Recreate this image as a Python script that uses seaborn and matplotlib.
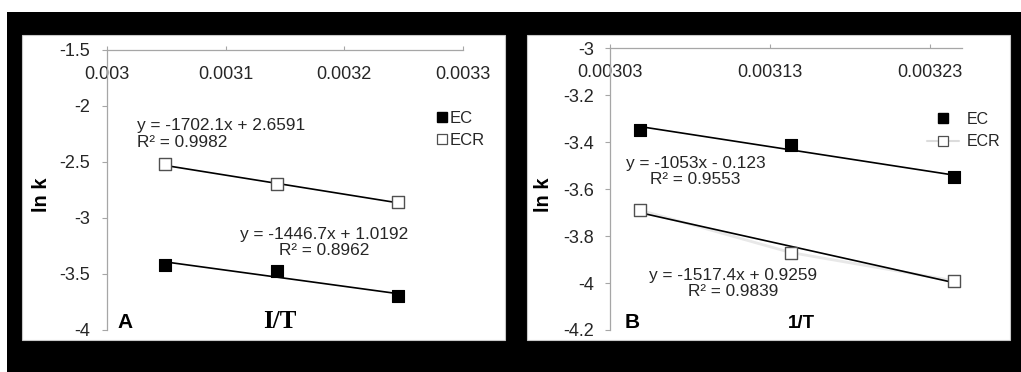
import matplotlib
matplotlib.use("Agg")
import matplotlib.pyplot as plt
import seaborn as sns
import numpy as np
import pandas as pd
from matplotlib.patches import Rectangle
from matplotlib.lines import Line2D

# ---------------- data ----------------
inv_T = [0.003049, 0.003143, 0.003245]

# Panel A
lnk_EC_A = [-3.42, -3.47, -3.70]
lnk_ECR_A = [-2.52, -2.70, -2.86]
fit_EC_A = [-1446.7, 1.0192]
fit_ECR_A = [-1702.1, 2.6591]
eq_EC_A = "y = -1446.7x + 1.0192\nR² = 0.8962"
eq_ECR_A = "y = -1702.1x + 2.6591\nR² = 0.9982"
xticks_A = [0.003, 0.0031, 0.0032, 0.0033]
xticklabels_A = ["0.003", "0.0031", "0.0032", "0.0033"]
yticks_A = [-4, -3.5, -3, -2.5, -2, -1.5]
yticklabels_A = ["-4", "-3.5", "-3", "-2.5", "-2", "-1.5"]

# Panel B
lnk_EC_B = [-3.35, -3.41, -3.55]
lnk_ECR_B = [-3.69, -3.87, -3.99]
fit_EC_B = [-1053.0, -0.123]
fit_ECR_B = [-1517.4, 0.9259]
eq_EC_B = "y = -1053x - 0.123\nR² = 0.9553"
eq_ECR_B = "y = -1517.4x + 0.9259\nR² = 0.9839"
xticks_B = [0.00303, 0.00313, 0.00323]
xticklabels_B = ["0.00303", "0.00313", "0.00323"]
yticks_B = [-4.2, -4.0, -3.8, -3.6, -3.4, -3.2, -3.0]
yticklabels_B = ["-4.2", "-4", "-3.8", "-3.6", "-3.4", "-3.2", "-3"]

series_labels = ["EC", "ECR"]

# ---------------- style ----------------
sns.set_style("white")
plt.rcParams["font.family"] = ["Liberation Sans", "DejaVu Sans"]

W, H = 1021, 372
fig = plt.figure(figsize=(W / 100, H / 100), dpi=100, facecolor="white")


def fx(px):
    return px / W


def fy(py):
    return 1 - py / H


# black background and white panels
fig.patches.append(Rectangle((fx(7), 0), 1 - fx(7), fy(12), transform=fig.transFigure,
                             facecolor="black", edgecolor="none", zorder=-3))
for x0 in (22, 527):
    fig.patches.append(Rectangle((fx(x0), fy(340)), fx(483), (305) / H, transform=fig.transFigure,
                                 facecolor="white", edgecolor="#c8c8c8", lw=0.8, zorder=-2))

axA = fig.add_axes([fx(107), fy(330), fx(463 - 107), (330 - 50) / H])
axB = fig.add_axes([fx(610), fy(330), fx(961.7 - 610), (330 - 48.3) / H])

GRAY = "#a6a6a6"
TXT = "#262626"
EQ_FS = 12.4


def style_axis(ax, xlim, ylim, xt, xtl, yt, ytl, ypad):
    ax.patch.set_alpha(0)
    ax.set_xlim(*xlim)
    ax.set_ylim(*ylim)
    ax.set_xticks(xt)
    ax.set_xticklabels(xtl)
    ax.set_yticks(yt)
    ax.set_yticklabels(ytl)
    ax.tick_params(axis="x", top=True, bottom=False, labeltop=True, labelbottom=False,
                   direction="out", length=3, width=0.8, color=GRAY, pad=-26.5,
                   labelsize=13, labelcolor=TXT)
    ax.tick_params(axis="y", left=True, right=False, direction="out", length=3.6,
                   width=0.8, color=GRAY, pad=ypad, labelsize=13, labelcolor=TXT)
    for s in ("right", "bottom"):
        ax.spines[s].set_visible(False)
    for s in ("top", "left"):
        ax.spines[s].set_visible(True)
        ax.spines[s].set_color(GRAY)
        ax.spines[s].set_linewidth(0.9)
    ax.set_xlabel("")
    ax.set_ylabel("")


def draw_panel(ax, ec, ecr, fit_ec, fit_ecr, gray_line=False):
    x = np.array(inv_T)
    xs = np.array([x.min(), x.max()])
    if gray_line:
        sns.lineplot(x=x, y=ecr, ax=ax, color="#e8e8e8", lw=2.0, zorder=1)
    sns.lineplot(x=xs, y=fit_ec[0] * xs + fit_ec[1], ax=ax, color="black", lw=1.2, zorder=2)
    sns.lineplot(x=xs, y=fit_ecr[0] * xs + fit_ecr[1], ax=ax, color="black", lw=1.2, zorder=2)
    sns.scatterplot(x=x, y=ec, ax=ax, marker="s", s=80, color="black",
                    edgecolor="black", linewidth=0.8, zorder=3)
    sns.scatterplot(x=x, y=ecr, ax=ax, marker="s", s=80, facecolor="white",
                    edgecolor="#505050", linewidth=1.0, zorder=3)


draw_panel(axA, lnk_EC_A, lnk_ECR_A, fit_EC_A, fit_ECR_A)
draw_panel(axB, lnk_EC_B, lnk_ECR_B, fit_EC_B, fit_ECR_B, gray_line=True)

style_axis(axA, (0.003, 0.0033), (-4, -1.5), xticks_A, xticklabels_A, yticks_A, yticklabels_A, 8.6)
style_axis(axB, (0.00303, 0.00325), (-4.2, -3.0), xticks_B, xticklabels_B, yticks_B, yticklabels_B, 7.8)

# equations
axA.text(0.0030253, -2.25, eq_ECR_A, ha="left", va="center", fontsize=EQ_FS, color=TXT,
         linespacing=1.15, multialignment="left")
axA.text(0.0031829, -3.218, eq_EC_A, ha="center", va="center", fontsize=EQ_FS, color=TXT,
         linespacing=1.1, multialignment="center")
axB.text(0.0030836, -3.526, eq_EC_B, ha="center", va="center", fontsize=EQ_FS, color=TXT,
         linespacing=1.1, multialignment="center")
axB.text(0.0031069, -4.0017, eq_ECR_B, ha="center", va="center", fontsize=EQ_FS, color=TXT,
         linespacing=1.1, multialignment="center")

# labels
fig.text(fx(41.7), fy(195), "ln k", rotation=90, ha="center", va="center",
         fontsize=14.5, fontweight="bold", color="black")
fig.text(fx(543), fy(195), "ln k", rotation=90, ha="center", va="center",
         fontsize=14.5, fontweight="bold", color="black")
fig.text(fx(125), fy(323), "A", ha="center", va="center", fontsize=15,
         fontweight="bold", color="black")
fig.text(fx(631.7), fy(323), "B", ha="center", va="center", fontsize=15,
         fontweight="bold", color="black")
fig.text(fx(280), fy(322), "I/T", ha="center", va="center", fontsize=18,
         fontweight="bold", family=["Liberation Serif", "DejaVu Serif"], color="black")
fig.text(fx(801.7), fy(323), "1/T", ha="center", va="center", fontsize=13.5,
         fontweight="bold", color="black")

# legends
hA = [Line2D([], [], marker="s", ls="none", markersize=7, markerfacecolor="black",
             markeredgecolor="black"),
      Line2D([], [], marker="s", ls="none", markersize=7, markerfacecolor="white",
             markeredgecolor="#505050", markeredgewidth=0.9)]
legA = axA.legend(hA, series_labels, loc="upper left", bbox_to_anchor=(fx(436.7), fy(111)),
                  bbox_transform=fig.transFigure, frameon=False, fontsize=12,
                  handlelength=0.6, handletextpad=0.2, labelspacing=0.4, borderpad=0,
                  borderaxespad=0)
for t in legA.get_texts():
    t.set_color(TXT)

hB = [Line2D([], [], marker="s", ls="none", markersize=7, markerfacecolor="black",
             markeredgecolor="black"),
      Line2D([], [], marker="s", ls="-", color="#dcdcdc", lw=1.5, markersize=7,
             markerfacecolor="white", markeredgecolor="#505050", markeredgewidth=0.9)]
legB = axB.legend(hB, series_labels, loc="upper left", bbox_to_anchor=(fx(927), fy(112)),
                  bbox_transform=fig.transFigure, frameon=False, fontsize=11.5,
                  handlelength=2.0, handletextpad=0.5, labelspacing=0.45, borderpad=0,
                  borderaxespad=0)
for t in legB.get_texts():
    t.set_color(TXT)

fig.savefig("out.png", dpi=100, facecolor="white")
